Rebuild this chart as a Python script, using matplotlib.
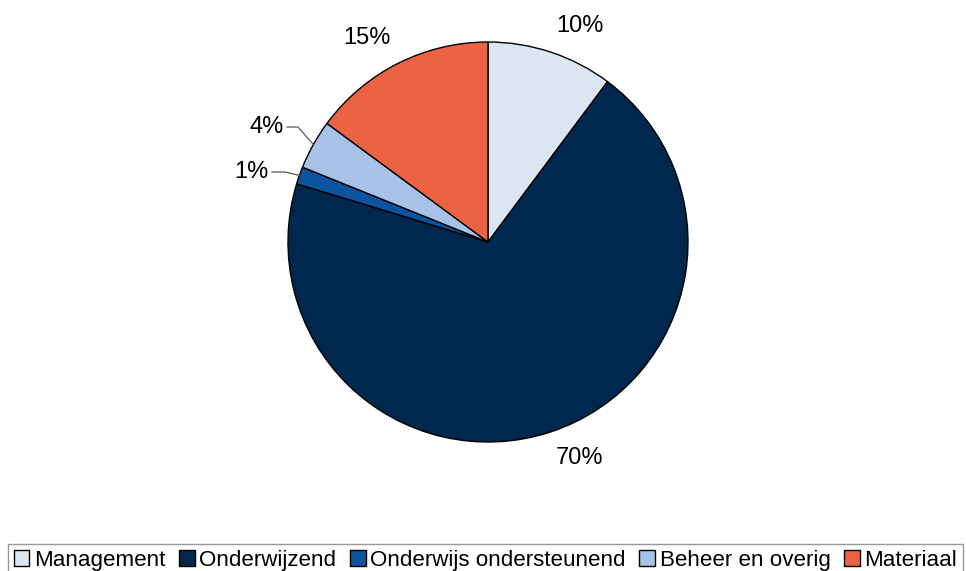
import numpy as np
import matplotlib
matplotlib.use("Agg")
from matplotlib import pyplot as plt

labels = ["Management", "Onderwijzend", "Onderwijs ondersteunend", "Beheer en overig", "Materiaal"]
values = [10.2, 69.5, 1.4, 4.0, 14.9]
pct_text = ["10%", "70%", "1%", "4%", "15%"]
colors = ["#DCE6F2", "#00284F", "#0B55A0", "#A8C1E6", "#EC6343"]

plt.rcParams['font.family'] = ['Liberation Sans', 'DejaVu Sans']

fig = plt.figure(figsize=(9.66, 5.71), dpi=100)
ax = fig.add_axes([(488 - 300) / 966, (329 - 300) / 571, 600 / 966, 600 / 571])
wedges, _ = ax.pie(values, colors=colors, startangle=90, counterclock=False, radius=1,
                   wedgeprops=dict(edgecolor="black", linewidth=1.0))
ax.set_xlim(-1.5, 1.5)
ax.set_ylim(-1.5, 1.5)
ax.set_aspect("equal")
ax.axis("off")

fs = 17
for w, t in zip(wedges, pct_text):
    mid = np.deg2rad((w.theta1 + w.theta2) / 2)
    dx, dy = np.cos(mid), np.sin(mid)
    if t in ("1%", "4%"):
        ey = 0.575 if t == "4%" else 0.35
        ex = -0.95 if t == "4%" else -1.015
        hx = -1.005 if t == "4%" else -1.08
        ax.plot([dx, ex, hx], [dy, ey, ey], color="#595959", lw=0.9, clip_on=False)
        ax.text(hx - 0.015, ey, t, ha="right", va="center", fontsize=fs)
    else:
        ax.text(1.08 * dx, 1.08 * dy, t, fontsize=fs,
                ha="left" if dx > 0 else "right",
                va="bottom" if dy > 0 else "top")

fig.legend(wedges, labels, loc="upper left", bbox_to_anchor=(8 / 966, 1 - 544 / 571),
           ncol=5, fontsize=16.1, frameon=True, fancybox=False, edgecolor="#7F7F7F",
           handlelength=0.7, handleheight=0.7, handletextpad=0.2, columnspacing=0.62,
           borderpad=0.25, borderaxespad=0)
fig.savefig("out.png", dpi=100)
